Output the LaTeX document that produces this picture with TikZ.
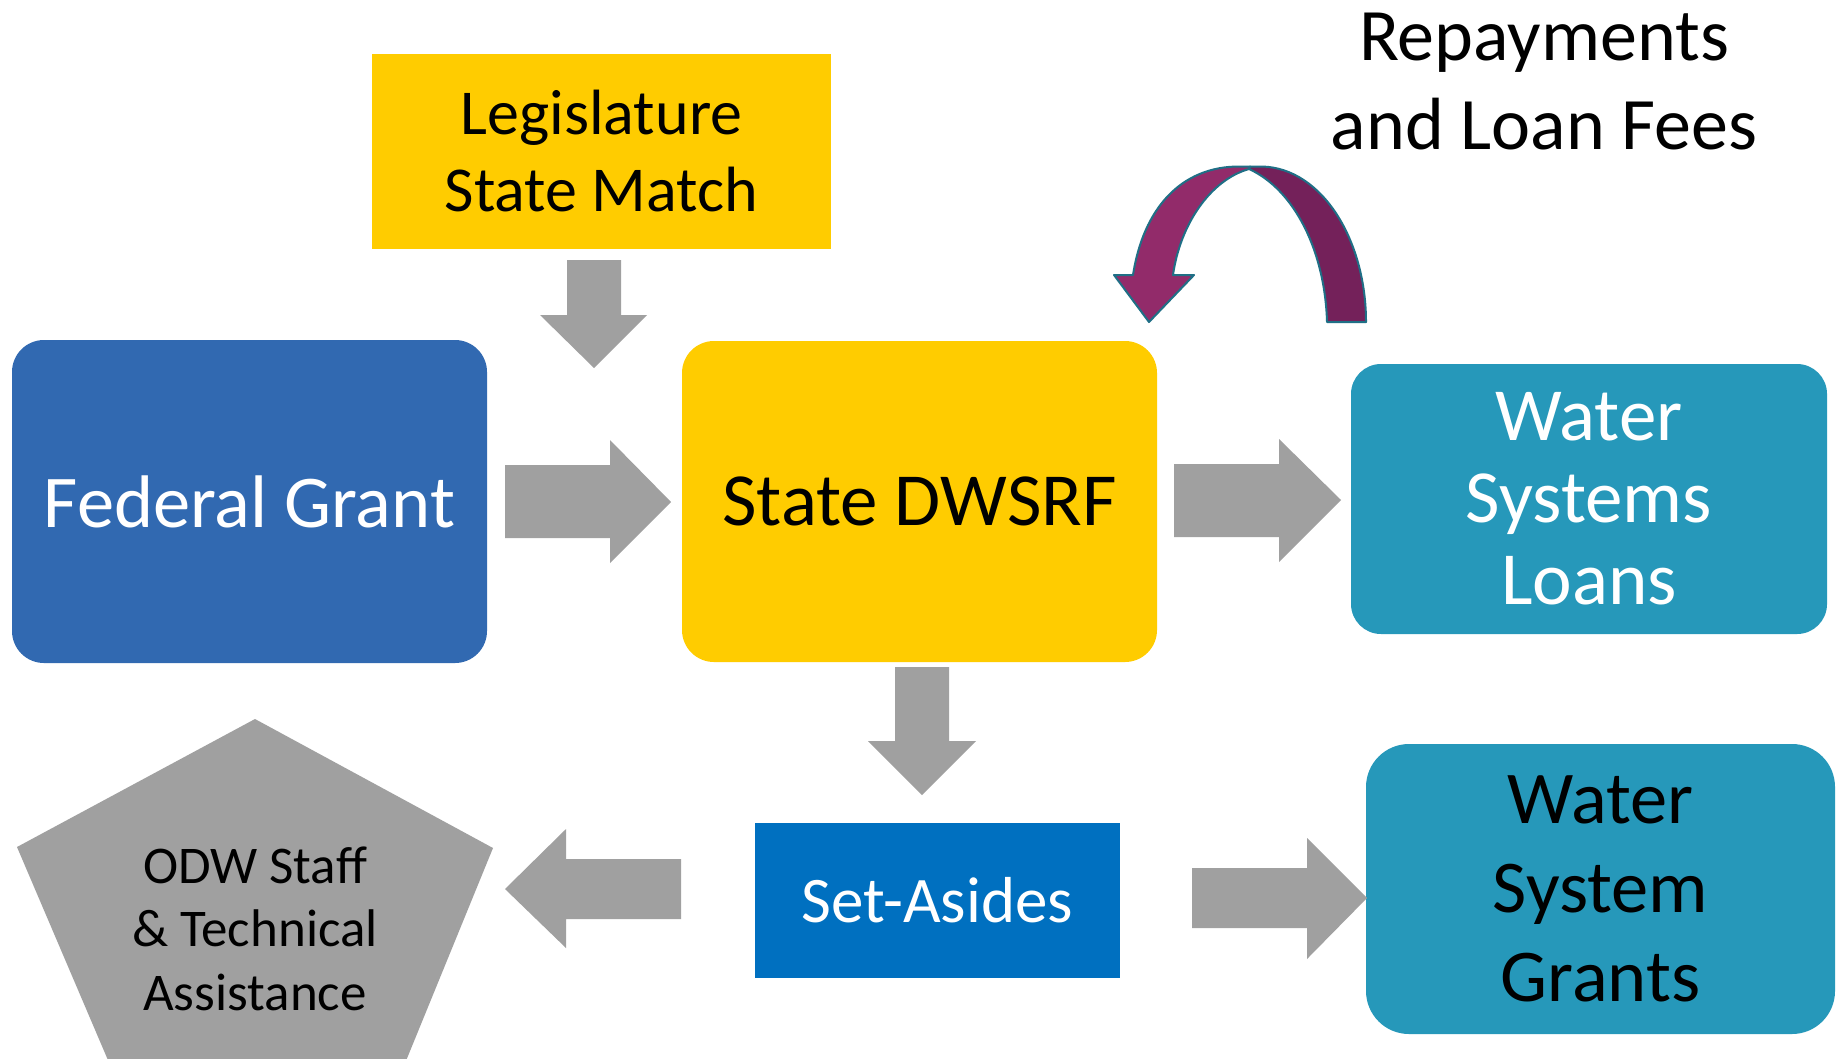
\documentclass[tikz,border=0pt]{standalone}
\usepackage{fontspec}
\setmainfont{Carlito}
\begin{document}
\begin{tikzpicture}[x=1pt,y=-1pt,
  box/.style={inner sep=0pt, outer sep=0pt, align=center},
  blk/.style={fill=arrowgray, draw=none},
  fsz/.style n args={2}{font=\fontsize{#1}{#2}\selectfont}]
\definecolor{arrowgray}{HTML}{A0A0A0}
\definecolor{fedblue}{HTML}{3169B1}
\definecolor{dwyellow}{HTML}{FFCC00}
\definecolor{teal}{HTML}{2698BA}
\definecolor{setblue}{HTML}{0070C0}
\definecolor{magl}{HTML}{922B6A}
\definecolor{magd}{HTML}{74215A}
\definecolor{edge}{HTML}{1F6F86}
\useasboundingbox (0,0) rectangle (1843,1058);
\fill[white] (0,0) rectangle (1843,1058);
\clip (0,0) rectangle (1843,1058);

% boxes
\node[box, fill=dwyellow, minimum width=459pt, minimum height=195pt, fsz={64}{77}] (leg) at (601.5,151.5) {Legislature\\State Match};
\node[box, fill=fedblue, rounded corners=32pt, minimum width=475pt, minimum height=323pt, text=white, fsz={74.5}{90}] (fed) at (249.5,501.5) {Federal Grant};
\node[box, fill=dwyellow, rounded corners=32pt, minimum width=475pt, minimum height=321pt, fsz={75}{90}] (srf) at (919.5,501.5) {State DWSRF};
\node[box, fill=teal, rounded corners=30pt, minimum width=476pt, minimum height=270pt, text=white, fsz={75}{82}] (loans) at (1589,499) {Water\\Systems\\Loans};
\node[box, fill=setblue, minimum width=365pt, minimum height=155pt, text=white, fsz={65}{78}] (set) at (937.5,900.5) {Set-Asides};
\node[box, fill=teal, rounded corners=43pt, minimum width=469pt, minimum height=290pt, fsz={74.5}{89}] (grants) at (1600.5,889) {Water\\System\\Grants};

% pentagon
\fill[arrowgray] (255,719) -- (493,848) -- (390,1100) -- (125,1100) -- (17,847) -- cycle;
\node[box, fsz={53}{63.5}] (odw) at (255,928.5) {ODW Staff\\\& Technical\\Assistance};

% repayments label
\node[box, fsz={74}{89}] (rep) at (1544,82) {Repayments\\and Loan Fees};

% block arrows
\fill[blk] (567,260) -- (621,260) -- (621,315) -- (647,315) -- (594,368) -- (540,315) -- (567,315) -- cycle;
\fill[blk] (505,465) -- (610,465) -- (610,440) -- (671,502) -- (610,563) -- (610,538) -- (505,538) -- cycle;
\fill[blk] (1174,464) -- (1279,464) -- (1279,439) -- (1341,500) -- (1279,562) -- (1279,537) -- (1174,537) -- cycle;
\fill[blk] (895,667) -- (949,667) -- (949,741) -- (976,741) -- (922,795) -- (868,741) -- (895,741) -- cycle;
\fill[blk] (681,859) -- (566,859) -- (566,829) -- (505,889) -- (566,948) -- (566,919) -- (681,919) -- cycle;
\fill[blk] (1192,868) -- (1307,868) -- (1307,838) -- (1367,898) -- (1307,959) -- (1307,928) -- (1192,928) -- cycle;

% curved arrow
\filldraw[fill=magd, draw=edge, line width=2pt, line join=round]
  (1250,166.5) -- (1262,166.5) .. controls (1322,168) and (1366,240) .. (1366,322)
  -- (1327,322) .. controls (1325,252) and (1295,190) .. (1249,169) -- cycle;
\filldraw[fill=magl, draw=edge, line width=2pt, line join=round]
  (1133,275) .. controls (1143,210) and (1180,166) .. (1240,166.5) -- (1250,166.5)
  -- (1249,169) .. controls (1210,180) and (1180,225) .. (1173,275)
  -- (1194,275) -- (1149,322) -- (1114,275) -- cycle;
\end{tikzpicture}
\end{document}
